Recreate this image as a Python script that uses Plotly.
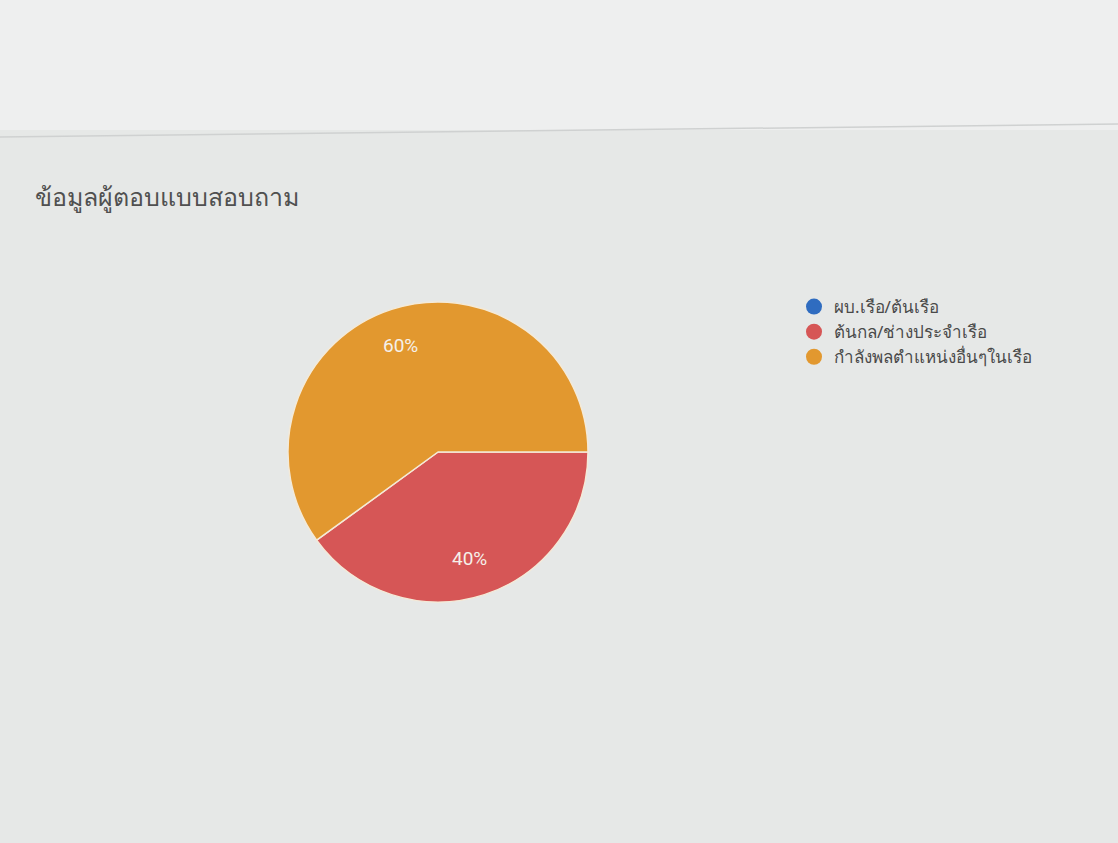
import math
import plotly.graph_objects as go

title_text = "ข้อมูลผู้ตอบแบบสอบถาม"
labels = ["ผบ.เรือ/ต้นเรือ", "ต้นกล/ช่างประจำเรือ", "กำลังพลตำแหน่งอื่นๆในเรือ"]
values = [0, 40, 60]
colors = ["#2f6cc0", "#d65656", "#e2982f"]

W, H = 1118, 843
# pie placement (pixels)
CX, CY, R = 438, 452, 150
START_DEG = 90  # first slice starts at 3 o'clock, clockwise

fig = go.Figure()
fig.add_trace(go.Pie(
    labels=labels,
    values=values,
    sort=False,
    direction="clockwise",
    rotation=START_DEG,
    marker=dict(colors=colors, line=dict(color="#f4ead8", width=1.5)),
    textinfo="none",
    domain=dict(x=[(CX - R) / W, (CX + R) / W], y=[1 - (CY + R) / H, 1 - (CY - R) / H]),
    showlegend=False,
    hoverinfo="label+percent",
))

# legend entries with circular markers
for lab, col in zip(labels, colors):
    fig.add_trace(go.Scatter(
        x=[None], y=[None], mode="markers", name=lab,
        marker=dict(symbol="circle", size=16, color=col),
        showlegend=True, hoverinfo="skip",
    ))

# percent labels placed along the slice bisector at 0.75 radius
annotations = []
total = sum(values)
acc = 0.0
for v in values:
    if v > 0:
        mid = START_DEG + (acc + v / 2) / total * 360
        th = math.radians(mid)
        px = CX + 0.75 * R * math.sin(th)
        py = CY - 0.75 * R * math.cos(th)
        annotations.append(dict(
            text=f"{round(100 * v / total)}%", xref="paper", yref="paper",
            x=(px - 3) / W, y=1 - py / H, xanchor="center", yanchor="middle",
            showarrow=False, font=dict(size=19, color="#f5f0ea", family="Roboto, Arial, sans-serif"),
        ))
    acc += v

annotations.append(dict(
    text=title_text, xref="paper", yref="paper", x=33 / W, y=1 - 196 / H,
    xanchor="left", yanchor="middle", showarrow=False,
    font=dict(size=25, color="#505050"),
))

fig.update_layout(
    width=W, height=H,
    margin=dict(l=0, r=0, t=0, b=0),
    paper_bgcolor="#e6e8e7",
    plot_bgcolor="rgba(0,0,0,0)",
    font=dict(family="Noto Sans, DejaVu Sans, sans-serif", color="#444444"),
    xaxis=dict(visible=False),
    yaxis=dict(visible=False),
    legend=dict(
        x=794 / W, y=1 - 289 / H, xanchor="left", yanchor="top",
        font=dict(size=17, color="#4a4a4a"),
        itemsizing="trace",
        bgcolor="rgba(0,0,0,0)",
    ),
    shapes=[
        dict(type="rect", xref="paper", yref="paper", x0=0, x1=1, y0=1 - 130 / H, y1=1,
             fillcolor="#eeefef", line=dict(width=0), layer="below"),
        dict(type="line", xref="paper", yref="paper", x0=0, y0=1 - 137 / H, x1=1, y1=1 - 124 / H,
             line=dict(color="#cfd1d1", width=1.5)),
    ],
    annotations=annotations,
)

fig.write_html("out.html")
